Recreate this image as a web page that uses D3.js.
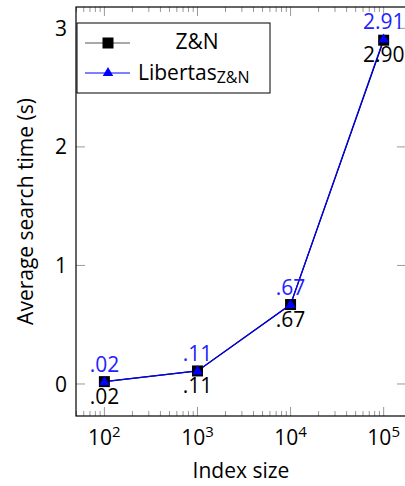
<!DOCTYPE html>
<html lang="en">
<head>
  <meta charset="UTF-8">
  <title>Average search time</title>
  <script src="https://d3js.org/d3.v7.min.js"></script>
  <style>
    body { margin: 0; background: #fff; }
    svg text { font-family: "Open Sans", sans-serif; }
  </style>
</head>
<body>
  <div id="chart"></div>

  <script>
    // data
    const sizes = [1e2, 1e3, 1e4, 1e5];
    const zn = [0.02, 0.11, 0.67, 2.90];
    const libertas = [0.02, 0.11, 0.67, 2.91];
    const znLabels = [".02", ".11", ".67", "2.90"];
    const libLabels = [".02", ".11", ".67", "2.91"];
    const yTicks = [0, 1, 2, 3];

    const W = 405, H = 486;
    const plot = { left: 76, right: 406, top: 7, bottom: 416 };
    const fs = 21;

    const svg = d3.select("#chart").append("svg")
      .attr("width", W).attr("height", H);

    const x = d3.scaleLog()
      .domain([Math.pow(10, 1.695), Math.pow(10, 5.24)])
      .range([plot.left, plot.right]);
    const y = d3.scaleLinear()
      .domain([-0.27, 3.18])
      .range([plot.bottom, plot.top]);

    // minor / major ticks on the log axis
    const minor = [];
    for (let e = 1; e <= 5; e++) {
      for (let m = 2; m <= 9; m++) {
        const v = m * Math.pow(10, e);
        if (v > x.domain()[0] && v < x.domain()[1]) minor.push(v);
      }
    }
    const tickCol = "#999";
    const ticks = svg.append("g");
    minor.forEach(v => {
      ticks.append("line").attr("x1", x(v)).attr("x2", x(v))
        .attr("y1", plot.bottom).attr("y2", plot.bottom - 5)
        .attr("stroke", tickCol);
      ticks.append("line").attr("x1", x(v)).attr("x2", x(v))
        .attr("y1", plot.top).attr("y2", plot.top + 5)
        .attr("stroke", tickCol);
    });
    sizes.forEach(v => {
      ticks.append("line").attr("x1", x(v)).attr("x2", x(v))
        .attr("y1", plot.bottom).attr("y2", plot.bottom - 9)
        .attr("stroke", tickCol);
      ticks.append("line").attr("x1", x(v)).attr("x2", x(v))
        .attr("y1", plot.top).attr("y2", plot.top + 9)
        .attr("stroke", tickCol);
    });
    yTicks.forEach(v => {
      ticks.append("line").attr("x1", plot.left).attr("x2", plot.left + 9)
        .attr("y1", y(v)).attr("y2", y(v)).attr("stroke", tickCol);
      ticks.append("line").attr("x1", plot.right).attr("x2", plot.right - 9)
        .attr("y1", y(v)).attr("y2", y(v)).attr("stroke", tickCol);
    });

    // tick labels
    const xl = svg.append("g");
    sizes.forEach(v => {
      const t = xl.append("text").attr("x", x(v)).attr("y", 445)
        .attr("text-anchor", "middle").attr("font-size", fs).attr("fill", "#000");
      t.append("tspan").text("10");
      t.append("tspan").attr("dy", -8).attr("font-size", 15).text(Math.log10(v));
    });
    yTicks.forEach(v => {
      svg.append("text").attr("x", 67).attr("y", y(v))
        .attr("dy", "0.36em").attr("text-anchor", "end")
        .attr("font-size", fs).text(v);
    });

    // axis titles
    svg.append("text").attr("x", (plot.left + plot.right) / 2).attr("y", 478)
      .attr("text-anchor", "middle").attr("font-size", fs).text("Index size");
    svg.append("text")
      .attr("transform", `translate(33, ${(plot.top + plot.bottom) / 2}) rotate(-90)`)
      .attr("text-anchor", "middle").attr("font-size", fs)
      .text("Average search time (s)");

    // lines
    const line = d3.line().x(d => x(d[0])).y(d => y(d[1]));
    svg.append("path").datum(sizes.map((s, i) => [s, zn[i]]))
      .attr("d", line).attr("fill", "none").attr("stroke", "#000").attr("stroke-width", 1.2);
    svg.append("path").datum(sizes.map((s, i) => [s, libertas[i]]))
      .attr("d", line).attr("fill", "none").attr("stroke", "#0000ff").attr("stroke-width", 1.2);

    // markers
    const sq = 11;
    svg.append("g").selectAll("rect").data(sizes).join("rect")
      .attr("x", (d, i) => x(d) - sq / 2).attr("y", (d, i) => y(zn[i]) - sq / 2)
      .attr("width", sq).attr("height", sq)
      .attr("fill", "#000");
    const tri = d3.symbol().type(d3.symbolTriangle).size(48);
    svg.append("g").selectAll("path").data(sizes).join("path")
      .attr("transform", (d, i) => `translate(${x(d)},${y(libertas[i]) + 0.5})`)
      .attr("d", tri).attr("fill", "#0000ff");

    // value labels
    svg.append("g").selectAll("text").data(sizes).join("text")
      .attr("x", d => x(d)).attr("y", (d, i) => y(zn[i]) + 22)
      .attr("text-anchor", "middle").attr("font-size", fs).attr("fill", "#000")
      .text((d, i) => znLabels[i]);
    svg.append("g").selectAll("text").data(sizes).join("text")
      .attr("x", d => x(d)).attr("y", (d, i) => y(libertas[i]) - 10)
      .attr("text-anchor", "middle").attr("font-size", fs).attr("fill", "#2222ff")
      .text((d, i) => libLabels[i]);

    // axis frame
    svg.append("rect")
      .attr("x", plot.left).attr("y", plot.top)
      .attr("width", plot.right - plot.left).attr("height", plot.bottom - plot.top)
      .attr("fill", "none").attr("stroke", "#000").attr("stroke-width", 1.2);

    // legend
    const lg = svg.append("g");
    lg.append("rect").attr("x", 77).attr("y", 23).attr("width", 193).attr("height", 70)
      .attr("fill", "#fff").attr("stroke", "#000").attr("stroke-width", 1);
    lg.append("line").attr("x1", 85).attr("x2", 130).attr("y1", 43).attr("y2", 43)
      .attr("stroke", "#555").attr("stroke-width", 1.2);
    lg.append("rect").attr("x", 108 - 5.5).attr("y", 43 - 5.5).attr("width", 11).attr("height", 11)
      .attr("fill", "#000");
    lg.append("text").attr("x", 197).attr("y", 49)
      .attr("text-anchor", "middle").attr("font-size", fs).text("Z&N");
    lg.append("line").attr("x1", 85).attr("x2", 130).attr("y1", 73).attr("y2", 73)
      .attr("stroke", "#0000ff").attr("stroke-width", 1.2);
    lg.append("path").attr("transform", "translate(108,73)")
      .attr("d", tri).attr("fill", "#0000ff");
    const lt = lg.append("text").attr("x", 138).attr("y", 80).attr("font-size", fs);
    lt.append("tspan").text("Libertas");
    lt.append("tspan").attr("dy", 3).attr("font-size", 16).text("Z&N");
  </script>
</body>
</html>
